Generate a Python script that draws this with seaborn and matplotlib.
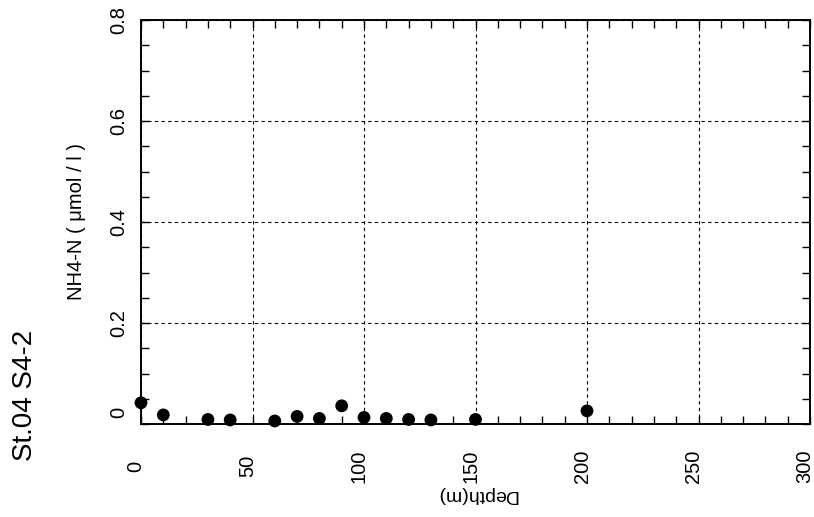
import numpy as np
import pandas as pd
import matplotlib
matplotlib.use('Agg')
import matplotlib.pyplot as plt
import matplotlib.transforms as mtransforms
from matplotlib.ticker import MultipleLocator, FixedLocator
import seaborn as sns

# ---- data ----
depth = [0, 10, 30, 40, 60, 70, 80, 90, 100, 110, 120, 130, 150, 200]
nh4 = [0.042, 0.018, 0.009, 0.008, 0.006, 0.015, 0.011, 0.036, 0.013,
       0.011, 0.009, 0.008, 0.009, 0.026]
x_ticks = [0, 50, 100, 150, 200, 250, 300]
x_ticklabels = ['0', '50', '100', '150', '200', '250', '300']
y_ticks = [0, 0.2, 0.4, 0.6, 0.8]
y_ticklabels = ['0', '0.2', '0.4', '0.6', '0.8']
station = 'St.04 S4-2'
xlabel = 'Depth(m)'
ylabel = 'NH4-N ( μmol / l )'

sns.set_style('white')
plt.rcParams['font.family'] = ['Liberation Sans', 'DejaVu Sans']
plt.rcParams.update({'text.color': 'black', 'axes.labelcolor': 'black',
                     'xtick.color': 'black', 'ytick.color': 'black'})

W, H = 814, 517
fig = plt.figure(figsize=(W / 100, H / 100), dpi=100)
ax = fig.add_axes([141 / W, 93 / H, 669 / W, 404 / H])

df = pd.DataFrame({'depth': depth, 'nh4': nh4})
sns.scatterplot(data=df, x='depth', y='nh4', ax=ax, color='black', s=85,
                edgecolor='none', linewidth=0, clip_on=False, zorder=5)

ax.set_xlim(0, 300)
ax.set_ylim(0, 0.8)
ax.xaxis.set_major_locator(FixedLocator(x_ticks))
ax.yaxis.set_major_locator(FixedLocator(y_ticks))
ax.xaxis.set_minor_locator(MultipleLocator(10))
ax.yaxis.set_minor_locator(MultipleLocator(0.05))
ax.set_xticklabels(x_ticklabels)
ax.set_yticklabels(y_ticklabels)

ax.grid(True, which='major', color='black', linestyle=(0, (3, 3)), linewidth=0.8)
ax.set_axisbelow(True)
for sp in ax.spines.values():
    sp.set_visible(True)
    sp.set_color('black')
    sp.set_linewidth(1.4)

ax.tick_params(which='both', direction='in', length=6, width=1, color='black',
               top=True, right=True, bottom=True, left=True)
ax.tick_params(axis='x', which='major', pad=30.2, labelsize=14.5, labelrotation=90)
ax.tick_params(axis='y', which='major', pad=9.4, labelsize=14.5, labelrotation=90)

for lab in ax.get_xticklabels():
    lab.set_va('center')
    lab.set_ha('center')
    lab.set_transform(lab.get_transform() +
                      mtransforms.ScaledTranslation(-5 / 100, 0, fig.dpi_scale_trans))
for lab in ax.get_yticklabels():
    lab.set_va('center')
    lab.set_ha('right')
ylabs = ax.get_yticklabels()
ylabs[0].set_transform(ylabs[0].get_transform() +
                       mtransforms.ScaledTranslation(0, 12 / 100, fig.dpi_scale_trans))

ax.set_xlabel('')
ax.set_ylabel(ylabel, fontsize=14.5)
ax.yaxis.label.set_va('center')
ax.yaxis.set_label_coords((77 - 141) / 669, (424 - 222) / 404)

ax.text((477 - 141) / 669, (424 - 495) / 404, xlabel, transform=ax.transAxes,
        rotation=180, ha='center', va='center', fontsize=14)

fig.text(25 / W, 1 - 395 / H, station, rotation=90, ha='center', va='center',
         fontsize=20)

fig.savefig('out.png', dpi=100)
